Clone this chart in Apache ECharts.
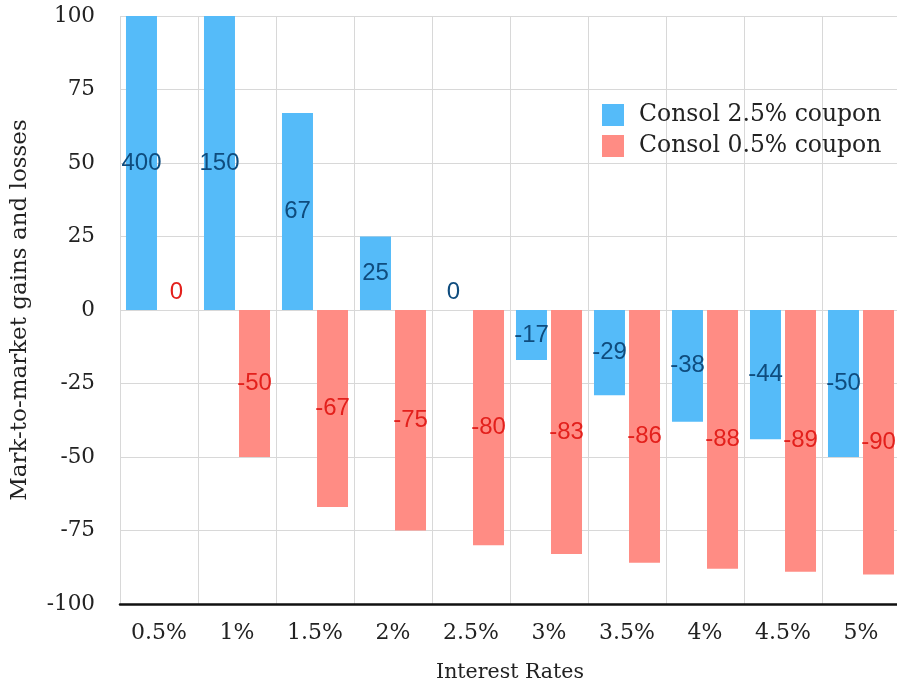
<!DOCTYPE html>
<html>
<head>
<meta charset="utf-8">
<script src="https://cdn.jsdelivr.net/npm/echarts@6/dist/echarts.min.js"></script>
<style>
  html, body { margin: 0; padding: 0; background: #fff; }
  #main { width: 897px; height: 686px; }
</style>
</head>
<body>
<div id="main"></div>
<script>
var rates = ["0.5%", "1%", "1.5%", "2%", "2.5%", "3%", "3.5%", "4%", "4.5%", "5%"];
var coupon25 = [400, 150, 67, 25, 0, -17, -29, -38, -44, -50];
var coupon05 = [0, -50, -67, -75, -80, -83, -86, -88, -89, -90];
var yMin = -100, yMax = 100, yStep = 25;

var serif = "DejaVu Serif";
var sans = "Liberation Sans";

// bars that run past the axis are cut at the top, the label keeps the real number
function toItems(values, labelColor) {
  return values.map(function (v) {
    return {
      value: Math.min(v, yMax),
      label: {
        show: true,
        position: v === 0 ? "top" : "inside",
        distance: 6,
        color: labelColor,
        fontFamily: sans,
        fontSize: 24,
        formatter: function () { return String(v); }
      }
    };
  });
}

var myChart = echarts.init(document.getElementById("main"));
myChart.setOption({
  animation: false,
  grid: { left: 120, top: 16, width: 780, height: 588, containLabel: false, outerBoundsMode: "none" },
  legend: {
    orient: "vertical",
    left: 597,
    top: 98,
    itemWidth: 22,
    itemHeight: 22,
    itemGap: 7,
    icon: "rect",
    textStyle: { fontFamily: serif, fontSize: 23.5, color: "#222", padding: [0, 0, 0, 10] },
    data: ["Consol 2.5% coupon", "Consol 0.5% coupon"]
  },
  xAxis: {
    type: "category",
    data: rates,
    name: "Interest Rates",
    nameLocation: "middle",
    nameGap: 58,
    nameTextStyle: { fontFamily: serif, fontSize: 20.5, color: "#222" },
    axisLine: { onZero: false, lineStyle: { color: "#111", width: 2.5 } },
    axisTick: { show: false },
    axisLabel: { fontFamily: serif, fontSize: 22, color: "#222", margin: 18 },
    splitLine: { show: true, interval: 0, lineStyle: { color: "#d8d8d8" } }
  },
  yAxis: {
    type: "value",
    min: yMin,
    max: yMax,
    interval: yStep,
    name: "Mark-to-market gains and losses",
    nameLocation: "middle",
    nameGap: 88,
    nameTextStyle: { fontFamily: serif, fontSize: 23, color: "#222" },
    axisLine: { show: false },
    axisTick: { show: false },
    axisLabel: { fontFamily: serif, fontSize: 21.5, color: "#222", margin: 25 },
    splitLine: { lineStyle: { color: "#d8d8d8" } }
  },
  series: [
    {
      name: "Consol 2.5% coupon",
      type: "bar",
      barWidth: 31,
      barGap: "13%",
      itemStyle: { color: "#55bbf9" },
      data: toItems(coupon25, "#0f4c7e")
    },
    {
      name: "Consol 0.5% coupon",
      type: "bar",
      barWidth: 31,
      barGap: "13%",
      itemStyle: { color: "#ff8c84" },
      data: toItems(coupon05, "#e3201c")
    }
  ]
});
</script>
</body>
</html>
